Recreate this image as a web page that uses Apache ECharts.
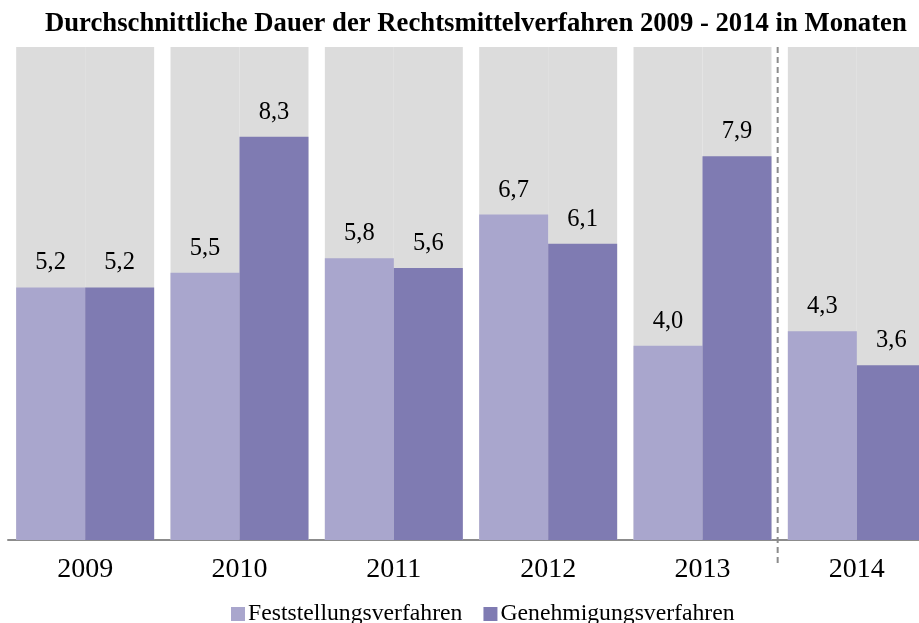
<!DOCTYPE html>
<html>
<head>
<meta charset="utf-8">
<script src="https://cdn.jsdelivr.net/npm/echarts@6/dist/echarts.min.js"></script>
<style>
  html, body { margin: 0; padding: 0; background: #fff; }
  #chart { width: 919px; height: 623px; }
</style>
</head>
<body>
<div id="chart"></div>
<script>
// Daten
const jahre = ['2009', '2010', '2011', '2012', '2013', '2014']
const feststellung = [5.2, 5.5, 5.8, 6.7, 4.0, 4.3]
const genehmigung = [5.2, 8.3, 5.6, 6.1, 7.9, 3.6]

const schrift = '"Liberation Serif", "Times New Roman", serif'

// Beschriftung mit Komma
const labelOpt = {
  show: true,
  position: 'top',
  distance: 12,
  fontFamily: schrift,
  fontSize: 24.5,
  color: '#000',
  formatter: (p) => p.value.toFixed(1).replace('.', ',')
}

const option = {
  animation: false,
  title: {
    text: 'Durchschnittliche Dauer der Rechtsmittelverfahren 2009 - 2014 in Monaten',
    left: 40,
    top: 6,
    textStyle: {
      fontFamily: schrift,
      fontSize: 26.7,
      fontWeight: 'bold',
      color: '#000'
    }
  },
  legend: {
    left: 226,
    top: 597,
    itemWidth: 14,
    itemHeight: 14,
    itemGap: 21,
    icon: 'rect',
    textStyle: {
      fontFamily: schrift,
      fontSize: 23.7,
      color: '#000',
      padding: [0, 0, 0, -2]
    }
  },
  grid: {
    left: 8,
    right: -15,
    top: 47,
    bottom: 83,
    outerBoundsMode: 'none'
  },
  xAxis: {
    type: 'category',
    data: jahre,
    axisTick: { show: false },
    axisLine: {
      lineStyle: { color: '#8c8c8c', width: 2 }
    },
    axisLabel: {
      margin: 16,
      fontFamily: schrift,
      fontSize: 28,
      color: '#000'
    }
  },
  yAxis: {
    type: 'value',
    min: 0,
    max: 10.15,
    show: false,
    splitLine: { show: false }
  },
  series: [
    {
      name: 'Feststellungsverfahren',
      type: 'bar',
      data: feststellung,
      barGap: '0%',
      barCategoryGap: '10.6%',
      itemStyle: { color: '#a9a6cd' },
      showBackground: true,
      backgroundStyle: { color: '#dcdcdc' },
      label: labelOpt
    },
    {
      name: 'Genehmigungsverfahren',
      type: 'bar',
      data: genehmigung,
      barGap: '0%',
      barCategoryGap: '10.6%',
      itemStyle: { color: '#7f7bb2' },
      showBackground: true,
      backgroundStyle: { color: '#dcdcdc' },
      label: labelOpt
    }
  ]
}

const chart = echarts.init(document.getElementById('chart'))
chart.setOption(option)

// gestrichelte Trennlinie zwischen 2013 und 2014
const x4 = chart.convertToPixel({ xAxisIndex: 0 }, 4)
const x5 = chart.convertToPixel({ xAxisIndex: 0 }, 5)
const xTrenn = (x4 + x5) / 2 - 2
const yOben = chart.convertToPixel({ yAxisIndex: 0 }, 10.15)
const yUnten = chart.convertToPixel({ yAxisIndex: 0 }, 0)
chart.setOption({
  graphic: [
    {
      type: 'line',
      shape: { x1: xTrenn, y1: yOben, x2: xTrenn, y2: yUnten + 25 },
      style: { stroke: '#8c8c8c', lineWidth: 2, lineDash: [6, 4] },
      z: 10
    }
  ]
})
</script>
</body>
</html>
